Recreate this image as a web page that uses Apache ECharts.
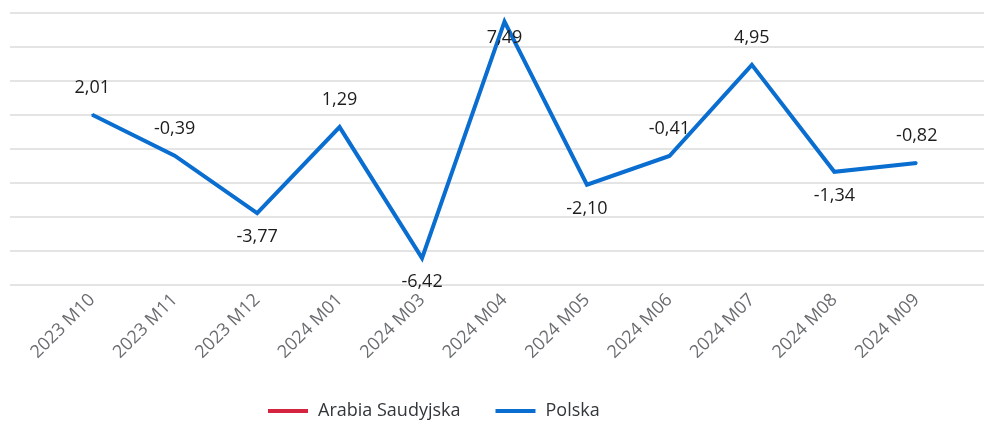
<!DOCTYPE html>
<html>
<head>
<meta charset="utf-8">
<script src="https://cdn.jsdelivr.net/npm/echarts@6/dist/echarts.min.js"></script>
<style>
  html, body { margin: 0; padding: 0; background: #fff; }
  #chart { width: 984px; height: 421px; }
</style>
</head>
<body>
<div id="chart"></div>
<script>
var categories = ['2023 M10', '2023 M11', '2023 M12', '2024 M01', '2024 M03', '2024 M04',
  '2024 M05', '2024 M06', '2024 M07', '2024 M08', '2024 M09'];
var polska = [2.01, -0.39, -3.77, 1.29, -6.42, 7.49, -2.10, -0.41, 4.95, -1.34, -0.82];
var arabia = [];
// where each value label sits
var labelPos = ['top', 'top', 'bottom', 'top', 'bottom', 'bottom', 'bottom', 'top', 'top', 'bottom', 'top'];

var chart = echarts.init(document.getElementById('chart'));

var polskaData = polska.map(function (v, i) {
  var pos = labelPos[i];
  var dist = pos === 'top' ? 17 : 14;
  if (i === 5) dist = 6;
  return { value: v, label: { position: pos, distance: dist } };
});

var option = {
  animation: false,
  grid: [
    { left: 10, right: 0, top: 13, bottom: 136 },
    { left: 51, right: 26, top: 13, bottom: 136 }
  ],
  legend: {
    top: 402,
    left: 268,
    padding: 0,
    icon: 'rect',
    itemWidth: 40,
    itemHeight: 4,
    itemGap: 35,
    textStyle: { fontFamily: 'Open Sans', fontSize: 18, color: '#32363a', padding: [0, 0, 0, 5] },
    data: ['Arabia Saudyjska', 'Polska']
  },
  xAxis: [
    { gridIndex: 0, type: 'value', show: false, min: 0, max: 1 },
    {
      gridIndex: 1,
      type: 'category',
      data: categories,
      boundaryGap: true,
      axisLine: { show: false },
      axisTick: { show: false },
      axisLabel: {
        rotate: 45,
        margin: 12,
        fontFamily: 'Open Sans',
        fontSize: 18,
        color: '#6a6d70'
      }
    }
  ],
  yAxis: [
    {
      gridIndex: 0,
      type: 'value',
      min: -8,
      max: 8,
      interval: 2,
      axisLabel: { show: false },
      axisLine: { show: false },
      axisTick: { show: false },
      splitLine: { lineStyle: { color: '#e4e4e4', width: 2 } }
    },
    {
      gridIndex: 1,
      type: 'value',
      min: -8,
      max: 8,
      interval: 2,
      axisLabel: { show: false },
      axisLine: { show: false },
      axisTick: { show: false },
      splitLine: { show: false }
    }
  ],
  series: [
    {
      name: 'Arabia Saudyjska',
      type: 'line',
      xAxisIndex: 1,
      yAxisIndex: 1,
      color: '#d5243f',
      lineStyle: { width: 4 },
      data: arabia
    },
    {
      name: 'Polska',
      type: 'line',
      xAxisIndex: 1,
      yAxisIndex: 1,
      color: '#0a6ed1',
      symbol: 'circle',
      symbolSize: 2,
      lineStyle: { width: 4, color: '#0a6ed1', join: 'miter' },
      label: {
        show: true,
        fontFamily: 'Open Sans',
        fontSize: 18,
        color: '#1d1d1d',
        formatter: function (p) { return p.value.toFixed(2).replace('.', ','); }
      },
      data: polskaData
    }
  ]
};

chart.setOption(option);
</script>
</body>
</html>
